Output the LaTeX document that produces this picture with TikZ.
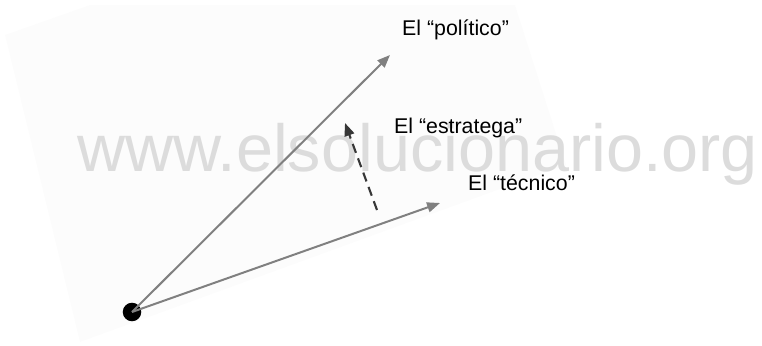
\documentclass[tikz,border=0pt]{standalone}
\usepackage{fontspec}
\setmainfont{Liberation Sans}
\usetikzlibrary{arrows.meta}
\definecolor{vecgray}{RGB}{128,128,128}
\definecolor{dashgray}{RGB}{55,55,55}
\definecolor{markgray}{RGB}{220,220,220}
\definecolor{pagegray}{RGB}{252,252,252}
\begin{document}
\begin{tikzpicture}[x=0.03cm,y=-0.03cm,
    vec/.style={vecgray,line width=1.7pt,-{Triangle[length=11pt,width=8.5pt]}},
    dashvec/.style={dashgray,line width=1.8pt,dash pattern=on 8pt off 5pt,
      -{Triangle[length=11pt,width=8.5pt]}},
    rolelabel/.style={anchor=base west,inner sep=0pt,
      font=\fontsize{18.2pt}{22pt}\selectfont}]
  \useasboundingbox (0,0) rectangle (762,346);
  % scanned page and watermark
  \fill[pagegray] (5,35) -- (90,5) -- (515,5) -- (566,165) -- (80,342) -- cycle;
  \node[markgray,anchor=base west,inner sep=0pt,
    font=\fontsize{56.8pt}{60pt}\selectfont] (marca) at (77,172)
    {www.elsolucionario.org};

  % vectors
  \node[circle,fill=black,inner sep=0pt,minimum size=15.8pt] (origen) at (132,312) {};
  \coordinate (politico) at (390,55);
  \coordinate (tecnico) at (440,203);
  \coordinate (desde) at (377,210);
  \coordinate (hacia) at (345,123);
  \draw[vec] (origen.center) -- (politico);
  \draw[vec] (origen.center) -- (tecnico);
  \draw[dashvec] (desde) -- (hacia);

  % labels
  \node[rolelabel] (lpolitico) at (402,36) {El “político”};
  \node[rolelabel] (lestratega) at (394,134) {El “estratega”};
  \node[rolelabel] (ltecnico) at (468,191) {El “técnico”};
\end{tikzpicture}
\end{document}
